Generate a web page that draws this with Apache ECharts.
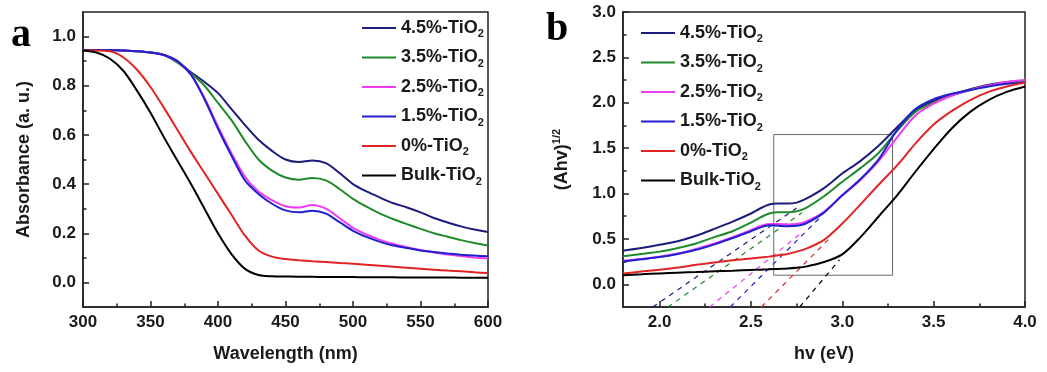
<!DOCTYPE html>
<html><head><meta charset="utf-8">
<script src="https://cdn.jsdelivr.net/npm/echarts@6/dist/echarts.min.js"></script>
<style>html,body{margin:0;padding:0;background:#fff}#c{width:1047px;height:372px}</style>
</head><body><div id="c"></div>
<script>
// ---------- shared ----------
const names = ['4.5%-TiO2','3.5%-TiO2','2.5%-TiO2','1.5%-TiO2','0%-TiO2','Bulk-TiO2'];
const colors = ['#1c1c7c','#1f8a2a','#f03cf0','#2020d0','#e02424','#000000'];

// ---------- panel a : absorbance vs wavelength ----------
const waveA = [300,310,320,330,340,350,360,370,380,390,400,410,420,430,440,450,460,470,480,490,500,510,520,530,540,550,560,570,580,590,600];
const absA_45 = [0.945,0.945,0.945,0.943,0.94,0.935,0.925,0.895,0.855,0.815,0.77,0.705,0.64,0.58,0.535,0.50,0.49,0.496,0.485,0.445,0.40,0.37,0.345,0.322,0.305,0.285,0.262,0.244,0.228,0.215,0.205];
const absA_35 = [0.945,0.945,0.945,0.943,0.94,0.935,0.925,0.895,0.85,0.80,0.73,0.66,0.575,0.50,0.455,0.427,0.418,0.425,0.415,0.38,0.34,0.308,0.28,0.257,0.237,0.218,0.20,0.186,0.172,0.16,0.15];
const absA_25 = [0.945,0.945,0.945,0.943,0.94,0.935,0.925,0.90,0.845,0.75,0.635,0.525,0.43,0.37,0.335,0.31,0.305,0.315,0.30,0.262,0.222,0.195,0.173,0.156,0.143,0.132,0.122,0.114,0.107,0.101,0.097];
const absA_15 = [0.945,0.945,0.945,0.943,0.94,0.935,0.925,0.90,0.845,0.745,0.625,0.515,0.415,0.36,0.32,0.293,0.285,0.292,0.28,0.245,0.21,0.185,0.165,0.15,0.14,0.13,0.124,0.118,0.113,0.109,0.106];
const absA_0  = [0.943,0.943,0.94,0.915,0.865,0.795,0.71,0.62,0.53,0.445,0.36,0.275,0.19,0.13,0.105,0.095,0.09,0.086,0.083,0.079,0.076,0.072,0.068,0.064,0.06,0.056,0.052,0.048,0.045,0.041,0.038];
const absA_bulk = [0.943,0.935,0.91,0.86,0.78,0.69,0.59,0.495,0.40,0.30,0.20,0.115,0.055,0.03,0.025,0.024,0.023,0.023,0.022,0.022,0.022,0.021,0.021,0.021,0.02,0.02,0.02,0.02,0.019,0.019,0.019];
const xTicksA = [300,350,400,450,500,550,600];
const xMinorA = [325,375,425,475,525,575];
const yTicksA = [0,0.2,0.4,0.6,0.8,1.0];
const yMinorA = [0.1,0.3,0.5,0.7,0.9];

// ---------- panel b : (Ahv)^1/2 vs hv ----------
const energyB = [1.8,1.9,2.0,2.1,2.2,2.3,2.4,2.5,2.55,2.6,2.65,2.7,2.75,2.8,2.9,3.0,3.1,3.2,3.3,3.4,3.5,3.6,3.7,3.8,3.9,4.0];
const tauc_45 = [0.37,0.40,0.435,0.475,0.535,0.61,0.69,0.78,0.835,0.88,0.89,0.89,0.90,0.94,1.06,1.22,1.36,1.53,1.73,1.92,2.02,2.09,2.15,2.20,2.23,2.24];
const tauc_35 = [0.31,0.335,0.36,0.40,0.45,0.52,0.585,0.68,0.735,0.78,0.795,0.795,0.805,0.84,0.97,1.13,1.28,1.45,1.69,1.90,2.00,2.08,2.14,2.19,2.22,2.23];
const tauc_25 = [0.26,0.28,0.305,0.34,0.39,0.45,0.52,0.595,0.64,0.665,0.665,0.66,0.665,0.69,0.80,0.98,1.15,1.36,1.62,1.86,1.99,2.08,2.14,2.19,2.23,2.25];
const tauc_15 = [0.25,0.275,0.30,0.335,0.38,0.44,0.51,0.585,0.625,0.65,0.645,0.64,0.645,0.67,0.79,0.98,1.16,1.38,1.70,1.93,2.04,2.10,2.14,2.18,2.21,2.22];
const tauc_0  = [0.12,0.14,0.16,0.185,0.215,0.24,0.265,0.285,0.295,0.305,0.32,0.335,0.36,0.39,0.49,0.67,0.88,1.10,1.31,1.55,1.76,1.91,2.03,2.12,2.18,2.22];
const tauc_bulk = [0.10,0.11,0.12,0.128,0.135,0.143,0.15,0.158,0.161,0.165,0.17,0.175,0.183,0.195,0.245,0.33,0.52,0.75,0.98,1.24,1.49,1.72,1.90,2.03,2.12,2.18];
// tangent (band-gap extrapolation) dashed lines, same order as names
const tanStartX = [1.963,2.046,2.274,2.387,2.557,2.767];
const tanStartY = [-0.25,-0.25,-0.25,-0.25,-0.25,-0.25];
const tanEndX   = [2.75,2.78,2.785,2.89,2.94,2.985];
const tanEndY   = [0.84,0.79,0.58,0.76,0.525,0.27];
// highlighted region box [x0, y0, x1, y1]
const boxB = [2.625,0.10,3.275,1.65];
const xTicksB = [2.0,2.5,3.0,3.5,4.0];
const xMinorB = [2.25,2.75,3.25,3.75];
const yTicksB = [0,0.5,1.0,1.5,2.0,2.5,3.0];
const yMinorB = [0.25,0.75,1.25,1.75,2.25,2.75];

const seriesA = [absA_45,absA_35,absA_25,absA_15,absA_0,absA_bulk];
const seriesB = [tauc_45,tauc_35,tauc_25,tauc_15,tauc_0,tauc_bulk];

const FONT = 'Liberation Sans, Arial, sans-serif';
const tickLab = {fontFamily: FONT, fontWeight: 'bold', fontSize: 17, color: '#1a1a1a'};
const nameLab = {fontFamily: FONT, fontWeight: 'bold', fontSize: 18, color: '#1a1a1a'};
const AX = {onZero:false, lineStyle: {color: '#222', width: 1.5}};
const TK = {color:'#222', width:1.5};

function majorX(grid, min, max, ticks, name, fmt) {
  return {type:'value', gridIndex:grid, min, max, position:'bottom',
    axisLine:{show:true, ...AX},
    axisTick:{show:true, inside:true, length:6, customValues:ticks, lineStyle:TK},
    axisLabel:{show:true, customValues:ticks, margin:7, formatter:fmt, ...tickLab},
    splitLine:{show:false},
    name, nameLocation:'middle', nameGap:38, nameTextStyle:{...nameLab}};
}
function minorX(grid, min, max, ticks) {
  return {type:'value', gridIndex:grid, min, max, position:'bottom',
    axisLine:{show:false, onZero:false}, axisLabel:{show:false}, splitLine:{show:false},
    axisTick:{show:true, inside:true, length:3.5, customValues:ticks, lineStyle:TK}};
}
function majorY(grid, min, max, ticks, name, nameRich, gap) {
  return {type:'value', gridIndex:grid, min, max, position:'left',
    axisLine:{show:true, ...AX},
    axisTick:{show:true, inside:true, length:6, customValues:ticks, lineStyle:TK},
    axisLabel:{show:true, customValues:ticks, margin:7, formatter:v=>v.toFixed(1), ...tickLab},
    splitLine:{show:false},
    name, nameLocation:'middle', nameGap:gap, nameRotate:90,
    nameTextStyle:{...nameLab, rich:nameRich}};
}
function minorY(grid, min, max, ticks) {
  return {type:'value', gridIndex:grid, min, max, position:'left',
    axisLine:{show:false, onZero:false}, axisLabel:{show:false}, splitLine:{show:false},
    axisTick:{show:true, inside:true, length:3.5, customValues:ticks, lineStyle:TK}};
}

const series = [];
names.forEach((n,i)=>{
  series.push({type:'line', name:n, xAxisIndex:0, yAxisIndex:0, symbol:'none', smooth:0.3,
    lineStyle:{width:2, color:colors[i]}, itemStyle:{color:colors[i]}, z:3,
    data: waveA.map((x,k)=>[x, seriesA[i][k]])});
});
names.forEach((n,i)=>{
  const s = {type:'line', name:n, xAxisIndex:2, yAxisIndex:2, symbol:'none', smooth:0.3,
    lineStyle:{width:2, color:colors[i]}, itemStyle:{color:colors[i]}, z:3,
    data: energyB.map((x,k)=>[x, seriesB[i][k]])};
  if (i === 5) {
    s.markArea = {silent:true, z:1,
      itemStyle:{color:'rgba(0,0,0,0)', borderColor:'#6a6a6a', borderWidth:1},
      data:[[{xAxis:boxB[0], yAxis:boxB[1]},{xAxis:boxB[2], yAxis:boxB[3]}]]};
  }
  series.push(s);
});
names.forEach((n,i)=>{
  series.push({type:'line', name:'tangent '+n, xAxisIndex:2, yAxisIndex:2, symbol:'none', silent:true,
    lineStyle:{width:1.2, color:colors[i], type:[5,5]}, z:2,
    data:[[tanStartX[i], tanStartY[i]],[tanEndX[i], tanEndY[i]]]});
});

const legendText = {...nameLab,
  rich:{sub:{fontFamily:FONT, fontWeight:'bold', fontSize:11, color:'#1a1a1a', verticalAlign:'bottom', lineHeight:23}}};
function legend(left, top, gap) {
  return {data:names, orient:'vertical', left, top, itemWidth:34, itemHeight:12, itemGap:gap,
    icon:'path://M0,5 L34,5 L34,7 L0,7 Z',
    formatter: n => n.replace('TiO2','TiO{sub|2}'),
    textStyle:legendText, selectedMode:false};
}

const option = {
  animation:false,
  backgroundColor:'#fff',
  grid:[
    {left:83, top:12, width:405, height:295, show:true, borderColor:'#222', borderWidth:1.5, backgroundColor:'transparent'},
    {left:623, top:12, width:402, height:295, show:true, borderColor:'#222', borderWidth:1.5, backgroundColor:'transparent'}
  ],
  xAxis:[
    majorX(0,300,600,xTicksA,'Wavelength (nm)', v=>String(v)),
    minorX(0,300,600,xMinorA),
    majorX(1,1.8,4.0,xTicksB,'hv (eV)', v=>v.toFixed(1)),
    minorX(1,1.8,4.0,xMinorB)
  ],
  yAxis:[
    majorY(0,-0.1,1.1,yTicksA,'Absorbance (a. u.)',{},50),
    minorY(0,-0.1,1.1,yMinorA),
    majorY(1,-0.25,3.0,yTicksB,'(Ahv){sup|1/2}',{sup:{fontFamily:FONT,fontWeight:'bold',fontSize:11,color:'#1a1a1a',verticalAlign:'top',lineHeight:22}},50),
    minorY(1,-0.25,3.0,yMinorB)
  ],
  legend:[legend(357,14,9), legend(636,19,9)],
  graphic:[
    {type:'text', left:11, top:16, style:{text:'a', font:'bold 40px "Liberation Serif", "Times New Roman", serif', fill:'#000'}},
    {type:'text', left:546, top:10, style:{text:'b', font:'bold 40px "Liberation Serif", "Times New Roman", serif', fill:'#000'}}
  ],
  series
};
const chart = echarts.init(document.getElementById('c'), null, {renderer:'canvas'});
chart.setOption(option);
</script>
</body></html>
